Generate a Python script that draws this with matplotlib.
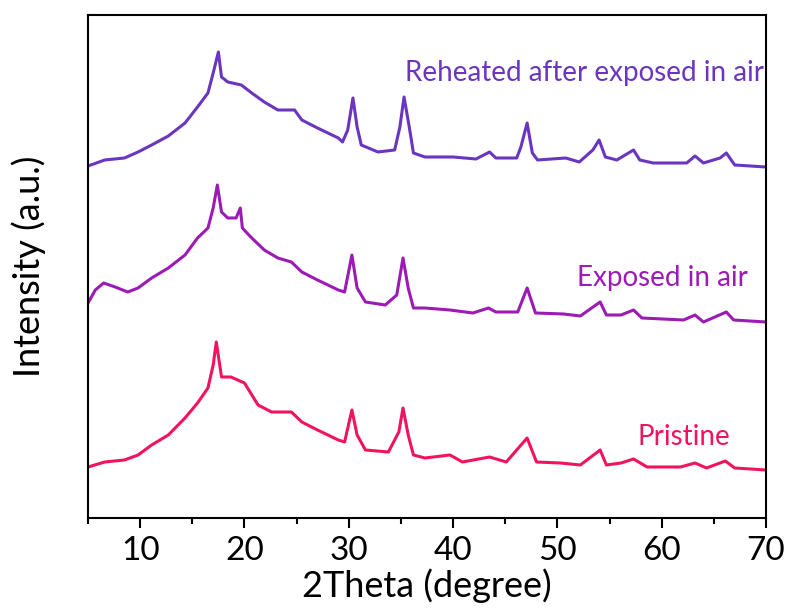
import matplotlib
matplotlib.use("Agg")
import matplotlib.pyplot as plt
from matplotlib.ticker import MultipleLocator

plt.rcParams['font.family'] = ['Lato', 'DejaVu Sans']

# 2Theta (degree) / stacked intensity (a.u.)
reheated_x = [5.0, 6.6, 8.5, 9.8, 11.1, 12.7, 14.3, 15.5, 16.5, 17.0, 17.5, 17.8,
              18.4, 19.7, 20.7, 21.9, 23.2, 24.8, 25.5, 27.0, 29.0, 29.4, 29.9,
              30.4, 30.8, 31.2, 32.8, 34.4, 34.9, 35.3, 35.8, 36.2, 37.3, 40.0,
              42.2, 43.5, 44.1, 46.1, 46.5, 47.1, 47.6, 48.1, 50.8, 52.1, 53.4,
              54.0, 54.6, 55.7, 57.3, 57.9, 59.2, 62.4, 63.2, 64.0, 65.6, 66.2,
              67.0, 70.0]
reheated_y = [352, 358, 360, 366, 373, 382, 395, 411, 425, 445, 466, 441,
              436, 433, 425, 416, 408, 408, 398, 390, 380, 376, 388,
              420, 391, 373, 366, 368, 391, 421, 391, 365, 361, 361,
              359, 366, 360, 360, 371, 395, 365, 358, 360, 356, 368,
              378, 361, 358, 368, 358, 355, 355, 362, 355, 360, 365,
              353, 351]

exposed_x = [5.0, 5.7, 6.5, 7.6, 8.8, 9.8, 11.1, 12.7, 14.3, 15.5, 16.5, 17.0,
             17.4, 17.8, 18.4, 19.2, 19.6, 19.8, 20.6, 21.9, 23.2, 24.5, 25.5,
             27.0, 29.0, 29.6, 30.3, 30.8, 31.6, 33.5, 34.6, 35.2, 35.7, 36.2,
             37.3, 39.7, 41.9, 43.4, 44.1, 46.2, 47.1, 47.9, 50.6, 52.2, 54.1,
             54.7, 56.1, 57.3, 58.1, 62.1, 63.2, 64.0, 66.2, 66.9, 70.0]
exposed_y = [215, 228, 235, 231, 226, 230, 240, 250, 263, 280, 290, 310,
             333, 306, 300, 300, 310, 290, 281, 268, 260, 256, 246,
             238, 228, 226, 263, 230, 216, 213, 223, 260, 230, 210,
             210, 208, 205, 210, 206, 206, 230, 205, 204, 202, 216,
             203, 203, 208, 200, 198, 203, 196, 206, 198, 196]

pristine_x = [5.0, 6.6, 8.5, 9.8, 11.1, 12.7, 14.3, 15.5, 16.5, 17.0, 17.3, 17.8,
              18.7, 20.0, 21.3, 22.6, 24.5, 25.5, 27.0, 29.0, 29.6, 30.3, 30.8,
              31.6, 33.8, 34.8, 35.2, 35.7, 36.2, 37.3, 39.7, 40.9, 43.5, 45.1,
              47.1, 48.0, 50.3, 52.2, 54.1, 54.7, 56.1, 57.3, 58.6, 61.8, 63.2,
              64.3, 66.1, 67.0, 70.0]
pristine_y = [51, 56, 58, 63, 73, 83, 100, 115, 130, 153, 176, 141,
              141, 135, 113, 106, 106, 96, 88, 78, 76, 108, 83,
              68, 66, 86, 110, 83, 63, 60, 63, 56, 61, 56,
              80, 56, 55, 53, 68, 53, 55, 59, 51, 51, 55,
              50, 57, 50, 48]

names = ['Reheated after exposed in air', 'Exposed in air', 'Pristine']
colors = ['#6a36bf', '#9c1bb4', '#f01460']

fig = plt.figure(figsize=(7.9, 6.12), dpi=100)
ax = fig.add_axes([0.1114, 0.1536, 0.8582, 0.8219])

series = [(reheated_x, reheated_y), (exposed_x, exposed_y), (pristine_x, pristine_y)]
for (x, y), c in zip(series, colors):
    ax.plot(x, y, color=c, lw=2.2)

# curve labels
ax.text(69.8, 445, names[0], color=colors[0], fontsize=20, ha='right', va='center')
ax.text(68.3, 240, names[1], color=colors[1], fontsize=20, ha='right', va='center')
ax.text(66.6, 81, names[2], color=colors[2], fontsize=20, ha='right', va='center')

ax.set_xlim(5, 70)
ax.set_ylim(0, 503)
ax.xaxis.set_major_locator(MultipleLocator(10))
ax.xaxis.set_minor_locator(MultipleLocator(5))
ax.set_yticks([])
ax.tick_params(axis='x', which='major', direction='out', length=7, width=1.5,
               labelsize=24, pad=6)
ax.tick_params(axis='x', which='minor', direction='out', length=4, width=1.5)
for s in ax.spines.values():
    s.set_linewidth(1.5)

ax.set_xlabel('2Theta (degree)', fontsize=26, labelpad=2)
ax.set_ylabel('Intensity (a.u.)', fontsize=26, labelpad=30)

fig.savefig('out.png', dpi=100)
